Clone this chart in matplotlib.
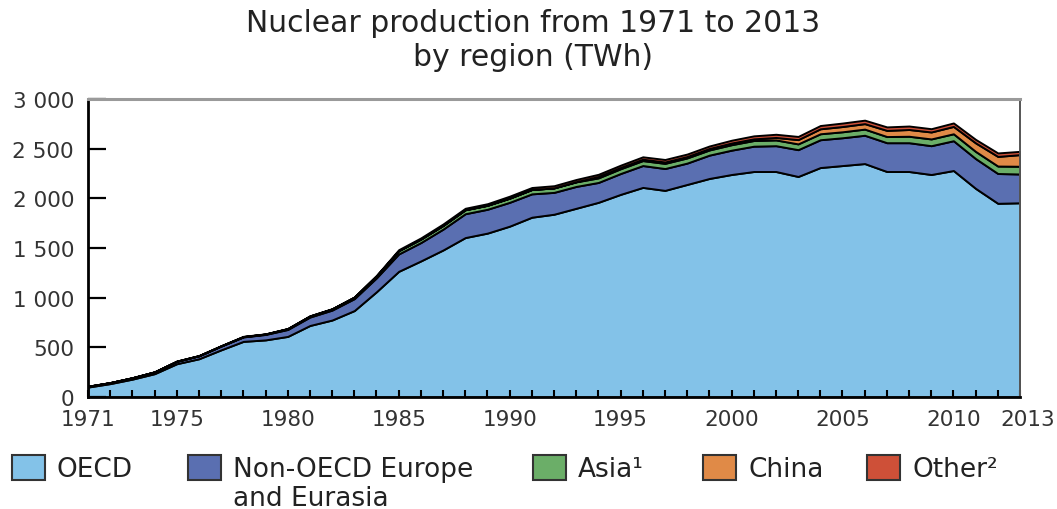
import matplotlib
matplotlib.use("Agg")
import matplotlib.pyplot as plt
from matplotlib.patches import Rectangle
from matplotlib.ticker import FuncFormatter
from matplotlib.transforms import ScaledTranslation

# Nuclear production by region, TWh
years = list(range(1971, 2014))
oecd = [100, 135, 180, 235, 335, 385, 475, 560, 575, 610,
        720, 775, 870, 1060, 1265, 1370, 1480, 1605, 1650, 1720,
        1810, 1840, 1900, 1960, 2040, 2110, 2080, 2140, 2200, 2240,
        2270, 2270, 2220, 2310, 2330, 2350, 2270, 2270, 2240, 2280,
        2100, 1950, 1955]
non_oecd_eurasia = [8, 10, 14, 18, 25, 30, 38, 45, 55, 70,
                    85, 100, 120, 140, 175, 185, 210, 240, 240, 240,
                    235, 220, 220, 200, 210, 220, 220, 215, 235, 245,
                    255, 260, 270, 280, 280, 285, 290, 290, 290, 300,
                    300, 300, 290]
asia = [0, 0, 0, 0, 0, 1, 2, 3, 4, 8,
        10, 12, 15, 20, 33, 35, 37, 40, 40, 42,
        44, 45, 46, 46, 48, 50, 52, 52, 52, 55,
        57, 58, 58, 60, 60, 62, 62, 65, 68, 70,
        72, 75, 78]
china = [0, 0, 0, 0, 0, 0, 0, 0, 0, 0,
         0, 0, 0, 0, 0, 0, 0, 0, 0, 0,
         0, 0, 2, 14, 13, 14, 14, 14, 15, 17,
         17, 25, 43, 50, 53, 55, 62, 68, 70, 74,
         86, 97, 117]
other = [0, 0, 0, 1, 2, 2, 2, 3, 2, 2,
         3, 2, 2, 5, 10, 12, 15, 15, 16, 20,
         20, 22, 22, 22, 23, 24, 25, 25, 25, 28,
         30, 32, 32, 33, 35, 35, 35, 35, 33, 35,
         35, 35, 33]

labels = ["OECD", "Non-OECD Europe\nand Eurasia", "Asia\u00b9", "China", "Other\u00b2"]
colors = ["#83C2E8", "#5A6FB1", "#6BAE68", "#E08A47", "#CE5038"]
xlabel_years = [1971, 1975, 1980, 1985, 1990, 1995, 2000, 2005, 2010, 2013]

W, H = 1057, 510
fig = plt.figure(figsize=(W / 100, H / 100), dpi=100)
ax = fig.add_axes([88 / W, 112 / H, 932 / W, 298 / H])

ax.stackplot(years, oecd, non_oecd_eurasia, asia, china, other,
             colors=colors, edgecolor="black", linewidth=1.4)

ax.set_xlim(1971, 2013)
ax.set_ylim(0, 3000)

ax.set_xticks(years)
ax.set_xticklabels([str(y) if y in xlabel_years else "" for y in years])
ax.set_yticks(range(0, 3001, 500))
ax.yaxis.set_major_formatter(FuncFormatter(lambda v, p: f"{int(v):,}".replace(",", " ")))

ax.tick_params(axis="x", direction="in", length=5, width=1.5, pad=9,
               labelsize=15.5, labelcolor="#333333")
ax.tick_params(axis="y", direction="in", length=13, width=1.6, pad=10,
               labelsize=15.5, labelcolor="#333333")

# last year label sits a little right of the axis end
last = ax.get_xticklabels()[-1]
last.set_transform(last.get_transform() + ScaledTranslation(8 / 100, 0, fig.dpi_scale_trans))

for side in ["left", "bottom"]:
    ax.spines[side].set_linewidth(2)
    ax.spines[side].set_color("black")
ax.spines["top"].set_color("#9a9a9a")
ax.spines["top"].set_linewidth(2.2)
ax.spines["right"].set_color("#555555")
ax.spines["right"].set_linewidth(1.4)

fig.text(533 / W, 1 - 24 / H, "Nuclear production from 1971 to 2013",
         ha="center", va="center", fontsize=21.5, color="#222222")
fig.text(533 / W, 1 - 58 / H, "by region (TWh)",
         ha="center", va="center", fontsize=21.5, color="#222222")

# legend along the bottom
patch_x = [12, 188, 533, 703, 867]
for x0, lab, col in zip(patch_x, labels, colors):
    fig.patches.append(Rectangle((x0 / W, 1 - 481 / H), 33 / W, 25 / H,
                                 transform=fig.transFigure, facecolor=col,
                                 edgecolor="#333333", linewidth=1.5))
    fig.text((x0 + 45) / W, 1 - 457 / H, lab, ha="left", va="top",
             fontsize=19, color="#222222", linespacing=1.15)

fig.savefig("out.png", dpi=100)
